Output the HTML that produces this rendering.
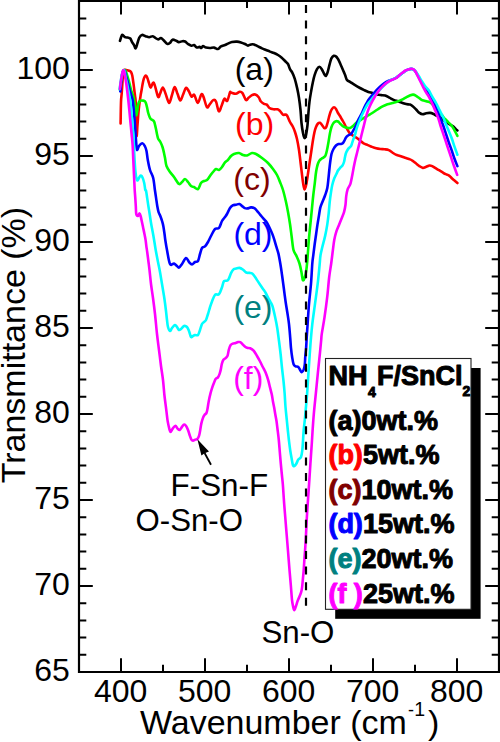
<!DOCTYPE html>
<html><head><meta charset="utf-8"><title>FTIR</title>
<style>
html,body{margin:0;padding:0;background:#fff;width:500px;height:742px;overflow:hidden;}
svg{display:block;}
text{font-family:"Liberation Sans",sans-serif;}
.tl{font-size:32px;fill:#000;}
.lg{font-size:27px;font-weight:bold;stroke-width:1px;paint-order:stroke;stroke-linejoin:round;}
</style></head>
<body>
<svg width="500" height="742" viewBox="0 0 500 742">
<rect width="500" height="742" fill="#fff"/>

<path d="M121 672V658.3M121 0V14.5M205 672V658.3M205 0V14.5M289 672V658.3M289 0V14.5M373 672V658.3M373 0V14.5M457 672V658.3M457 0V14.5M163 672V664.8M163 0V8M247 672V664.8M247 0V8M331 672V664.8M331 0V8M415 672V664.8M415 0V8M79 672H92.8M499 672H485.2M79 654.8H86.3M499 654.8H491.7M79 637.6H86.3M499 637.6H491.7M79 620.4H86.3M499 620.4H491.7M79 603.2H86.3M499 603.2H491.7M79 586H92.8M499 586H485.2M79 568.8H86.3M499 568.8H491.7M79 551.6H86.3M499 551.6H491.7M79 534.4H86.3M499 534.4H491.7M79 517.2H86.3M499 517.2H491.7M79 500H92.8M499 500H485.2M79 482.8H86.3M499 482.8H491.7M79 465.6H86.3M499 465.6H491.7M79 448.4H86.3M499 448.4H491.7M79 431.2H86.3M499 431.2H491.7M79 414H92.8M499 414H485.2M79 396.8H86.3M499 396.8H491.7M79 379.6H86.3M499 379.6H491.7M79 362.4H86.3M499 362.4H491.7M79 345.2H86.3M499 345.2H491.7M79 328H92.8M499 328H485.2M79 310.8H86.3M499 310.8H491.7M79 293.6H86.3M499 293.6H491.7M79 276.4H86.3M499 276.4H491.7M79 259.2H86.3M499 259.2H491.7M79 242H92.8M499 242H485.2M79 224.8H86.3M499 224.8H491.7M79 207.6H86.3M499 207.6H491.7M79 190.4H86.3M499 190.4H491.7M79 173.2H86.3M499 173.2H491.7M79 156H92.8M499 156H485.2M79 138.8H86.3M499 138.8H491.7M79 121.6H86.3M499 121.6H491.7M79 104.4H86.3M499 104.4H491.7M79 87.2H86.3M499 87.2H491.7M79 70H92.8M499 70H485.2M79 52.8H86.3M499 52.8H491.7M79 35.6H86.3M499 35.6H491.7M79 18.4H86.3M499 18.4H491.7" stroke="#000" stroke-width="2" fill="none"/>
<path d="M120.00 40.80C120.37 39.82 121.38 35.50 122.20 34.90C123.02 34.30 124.00 36.75 124.90 37.20C125.80 37.65 126.70 37.38 127.60 37.60C128.50 37.82 129.55 37.75 130.30 38.50C131.05 39.25 131.50 41.05 132.10 42.10C132.70 43.15 133.30 43.75 133.90 44.80C134.50 45.85 135.10 48.70 135.70 48.40C136.30 48.10 136.90 44.80 137.50 43.00C138.10 41.20 138.55 38.95 139.30 37.60C140.05 36.25 140.95 35.13 142.00 34.90C143.05 34.67 144.40 35.82 145.60 36.20C146.80 36.58 148.00 37.20 149.20 37.20C150.40 37.20 151.75 36.07 152.80 36.20C153.85 36.33 154.60 37.47 155.50 38.00C156.40 38.53 157.30 39.40 158.20 39.40C159.10 39.40 160.00 37.85 160.90 38.00C161.80 38.15 162.55 39.32 163.60 40.30C164.65 41.28 166.15 43.45 167.20 43.90C168.25 44.35 169.00 43.70 169.90 43.00C170.80 42.30 171.55 40.07 172.60 39.70C173.65 39.33 175.17 40.40 176.20 40.80C177.23 41.20 177.77 42.03 178.80 42.10C179.83 42.17 181.35 41.30 182.40 41.20C183.45 41.10 184.20 41.05 185.10 41.50C186.00 41.95 186.75 43.20 187.80 43.90C188.85 44.60 190.35 45.50 191.40 45.70C192.45 45.90 193.20 44.80 194.10 45.10C195.00 45.40 195.90 47.20 196.80 47.50C197.70 47.80 198.75 46.82 199.50 46.90C200.25 46.98 200.72 48.15 201.30 48.00C201.88 47.85 202.22 46.07 203.00 46.00C203.78 45.93 204.83 47.27 206.00 47.60C207.17 47.93 208.67 48.00 210.00 48.00C211.33 48.00 212.67 47.43 214.00 47.60C215.33 47.77 216.83 49.20 218.00 49.00C219.17 48.80 219.83 47.07 221.00 46.40C222.17 45.73 223.83 45.47 225.00 45.00C226.17 44.53 226.83 44.10 228.00 43.60C229.17 43.10 230.50 42.33 232.00 42.00C233.50 41.67 235.50 41.53 237.00 41.60C238.50 41.67 239.67 42.00 241.00 42.40C242.33 42.80 243.83 43.47 245.00 44.00C246.17 44.53 247.00 45.53 248.00 45.60C249.00 45.67 250.00 44.60 251.00 44.40C252.00 44.20 252.83 44.07 254.00 44.40C255.17 44.73 256.67 45.73 258.00 46.40C259.33 47.07 260.67 47.80 262.00 48.40C263.33 49.00 264.67 49.47 266.00 50.00C267.33 50.53 268.67 51.10 270.00 51.60C271.33 52.10 272.67 52.43 274.00 53.00C275.33 53.57 276.67 54.17 278.00 55.00C279.33 55.83 280.83 57.00 282.00 58.00C283.17 59.00 284.00 60.00 285.00 61.00C286.00 62.00 287.17 62.63 288.00 64.00C288.83 65.37 289.27 67.73 290.00 69.20C290.73 70.67 291.60 71.20 292.40 72.80C293.20 74.40 294.00 76.20 294.80 78.80C295.60 81.40 296.50 85.20 297.20 88.40C297.90 91.60 298.45 94.40 299.00 98.00C299.55 101.60 300.08 105.83 300.50 110.00C300.92 114.17 301.08 119.17 301.50 123.00C301.92 126.83 302.50 130.50 303.00 133.00C303.50 135.50 304.00 137.67 304.50 138.00C305.00 138.33 305.50 137.17 306.00 135.00C306.50 132.83 307.08 128.83 307.50 125.00C307.92 121.17 308.17 115.90 308.50 112.00C308.83 108.10 309.08 104.93 309.50 101.60C309.92 98.27 310.45 95.20 311.00 92.00C311.55 88.80 312.20 85.20 312.80 82.40C313.40 79.60 313.90 77.40 314.60 75.20C315.30 73.00 316.20 70.60 317.00 69.20C317.80 67.80 318.60 66.80 319.40 66.80C320.20 66.80 321.00 68.00 321.80 69.20C322.60 70.40 323.50 72.90 324.20 74.00C324.90 75.10 325.40 76.20 326.00 75.80C326.60 75.40 327.20 73.50 327.80 71.60C328.40 69.70 329.00 66.60 329.60 64.40C330.20 62.20 330.70 59.83 331.40 58.40C332.10 56.97 333.00 56.10 333.80 55.80C334.60 55.50 335.50 56.07 336.20 56.60C336.90 57.13 337.40 58.00 338.00 59.00C338.60 60.00 339.20 61.30 339.80 62.60C340.40 63.90 341.00 65.40 341.60 66.80C342.20 68.20 342.80 69.60 343.40 71.00C344.00 72.40 344.60 73.70 345.20 75.20C345.80 76.70 346.20 78.90 347.00 80.00C347.80 81.10 348.78 81.02 350.00 81.80C351.22 82.58 352.63 83.67 354.30 84.70C355.97 85.73 358.35 87.10 360.00 88.00C361.65 88.90 362.80 89.45 364.20 90.10C365.60 90.75 367.00 91.41 368.40 91.90C369.80 92.39 371.20 92.60 372.60 93.02C374.00 93.44 375.40 94.05 376.80 94.40C378.20 94.75 379.60 94.92 381.00 95.10C382.40 95.28 383.80 95.08 385.20 95.50C386.60 95.92 388.00 96.89 389.40 97.62C390.80 98.35 392.20 99.29 393.60 99.90C395.00 100.51 396.40 100.83 397.80 101.30C399.20 101.77 400.60 102.23 402.00 102.70C403.40 103.17 404.87 103.78 406.20 104.10C407.53 104.42 408.92 104.25 410.00 104.60C411.08 104.95 411.68 105.38 412.70 106.20C413.72 107.02 414.98 108.38 416.10 109.50C417.22 110.62 418.28 112.10 419.40 112.90C420.52 113.70 421.67 114.25 422.80 114.30C423.93 114.35 424.97 113.43 426.20 113.20C427.43 112.97 428.97 112.77 430.20 112.90C431.43 113.03 432.58 113.55 433.60 114.00C434.62 114.45 435.30 115.10 436.30 115.60C437.30 116.10 438.48 116.33 439.60 117.00C440.72 117.67 441.87 118.72 443.00 119.60C444.13 120.48 445.27 121.50 446.40 122.30C447.53 123.10 448.68 123.72 449.80 124.40C450.92 125.08 452.10 125.62 453.10 126.40C454.10 127.18 455.08 128.43 455.80 129.10C456.52 129.77 457.13 130.18 457.40 130.40" fill="none" stroke="#000" stroke-width="2.6" stroke-linejoin="round" stroke-linecap="round"/>
<path d="M120.60 123.40C120.67 119.83 120.82 106.98 121.00 102.00C121.18 97.02 121.47 96.67 121.70 93.50C121.93 90.33 122.17 86.35 122.40 83.00C122.63 79.65 122.87 75.51 123.10 73.39C123.33 71.27 123.40 70.88 123.80 70.30C124.20 69.72 124.87 69.90 125.50 69.90C126.13 69.90 126.90 70.14 127.60 70.30C128.30 70.46 129.12 70.53 129.70 70.85C130.28 71.17 130.68 71.46 131.10 72.20C131.52 72.94 131.90 74.08 132.20 75.30C132.50 76.52 132.67 77.98 132.90 79.50C133.13 81.02 133.37 82.65 133.60 84.40C133.83 86.15 134.07 88.13 134.30 90.00C134.53 91.87 134.77 93.60 135.00 95.60C135.23 97.60 135.52 98.27 135.70 102.00C135.88 105.73 135.95 112.33 136.10 118.00C136.25 123.67 136.37 134.83 136.60 136.00C136.83 137.17 137.18 129.00 137.50 125.00C137.82 121.00 138.17 115.67 138.50 112.00C138.83 108.33 139.15 105.73 139.50 103.00C139.85 100.27 140.25 97.77 140.60 95.60C140.95 93.43 141.25 92.03 141.60 90.00C141.95 87.97 142.35 85.22 142.70 83.40C143.05 81.58 143.35 80.21 143.70 79.06C144.05 77.91 144.38 77.04 144.80 76.50C145.22 75.96 145.73 75.45 146.20 75.80C146.67 76.15 147.13 77.38 147.60 78.60C148.07 79.82 148.47 81.65 149.00 83.15C149.53 84.65 150.00 87.66 150.80 87.60C151.60 87.54 152.60 81.30 153.80 82.80C155.00 84.30 156.97 94.77 158.00 96.60C159.03 98.43 159.20 95.32 160.00 93.80C160.80 92.28 161.87 87.50 162.80 87.50C163.73 87.50 164.55 91.23 165.60 93.80C166.65 96.37 168.05 102.67 169.10 102.90C170.15 103.13 170.97 97.83 171.90 95.20C172.83 92.57 173.77 87.33 174.70 87.10C175.63 86.87 176.57 91.57 177.50 93.80C178.43 96.03 179.37 100.38 180.30 100.50C181.23 100.62 182.17 96.60 183.10 94.50C184.03 92.40 184.97 88.48 185.90 87.90C186.83 87.32 187.77 89.55 188.70 91.00C189.63 92.45 190.57 95.95 191.50 96.60C192.43 97.25 193.25 93.85 194.30 94.90C195.35 95.95 196.63 102.97 197.80 102.90C198.97 102.83 200.37 95.55 201.30 94.50C202.23 93.45 202.47 94.50 203.40 96.60C204.33 98.70 205.85 105.82 206.90 107.10C207.95 108.38 208.65 105.47 209.70 104.30C210.75 103.13 212.15 100.57 213.20 100.10C214.25 99.63 215.07 99.63 216.00 101.50C216.93 103.37 217.87 110.60 218.80 111.30C219.73 112.00 220.67 107.80 221.60 105.70C222.53 103.60 223.47 99.52 224.40 98.70C225.33 97.88 226.27 101.85 227.20 100.80C228.13 99.75 229.37 93.78 230.00 92.40C230.63 91.02 230.03 92.27 231.00 92.50C231.97 92.73 234.33 93.92 235.80 93.80C237.27 93.68 238.68 91.92 239.80 91.80C240.92 91.68 241.48 91.75 242.50 93.10C243.52 94.45 244.88 99.12 245.90 99.90C246.92 100.68 247.58 98.60 248.60 97.80C249.62 97.00 250.88 95.65 252.00 95.10C253.12 94.55 254.18 94.15 255.30 94.50C256.42 94.85 257.80 96.08 258.70 97.20C259.60 98.32 259.82 100.08 260.70 101.20C261.58 102.32 262.98 103.33 264.00 103.90C265.02 104.47 265.88 103.92 266.80 104.60C267.72 105.28 268.38 107.22 269.50 108.00C270.62 108.78 272.15 109.08 273.50 109.30C274.85 109.52 276.47 108.97 277.60 109.30C278.73 109.63 279.40 110.40 280.30 111.30C281.20 112.20 282.22 114.15 283.00 114.70C283.78 115.25 284.33 114.47 285.00 114.60C285.67 114.73 286.17 114.27 287.00 115.50C287.83 116.73 289.00 120.08 290.00 122.00C291.00 123.92 292.17 125.33 293.00 127.00C293.83 128.67 294.33 130.00 295.00 132.00C295.67 134.00 296.33 136.00 297.00 139.00C297.67 142.00 298.42 146.17 299.00 150.00C299.58 153.83 300.05 158.33 300.50 162.00C300.95 165.67 301.32 168.83 301.70 172.00C302.08 175.17 302.45 178.50 302.80 181.00C303.15 183.50 303.50 185.58 303.80 187.00C304.10 188.42 304.32 189.42 304.60 189.50C304.88 189.58 305.18 188.58 305.50 187.50C305.82 186.42 306.17 184.75 306.50 183.00C306.83 181.25 307.17 179.17 307.50 177.00C307.83 174.83 308.08 172.83 308.50 170.00C308.92 167.17 309.50 163.33 310.00 160.00C310.50 156.67 311.00 153.33 311.50 150.00C312.00 146.67 312.50 143.00 313.00 140.00C313.50 137.00 314.00 134.17 314.50 132.00C315.00 129.83 315.42 128.42 316.00 127.00C316.58 125.58 317.33 124.20 318.00 123.50C318.67 122.80 319.33 122.55 320.00 122.80C320.67 123.05 321.33 124.17 322.00 125.00C322.67 125.83 323.33 127.38 324.00 127.80C324.67 128.22 325.42 128.30 326.00 127.50C326.58 126.70 327.00 124.75 327.50 123.00C328.00 121.25 328.50 118.83 329.00 117.00C329.50 115.17 330.00 113.33 330.50 112.00C331.00 110.67 331.42 109.78 332.00 109.00C332.58 108.22 333.33 107.30 334.00 107.30C334.67 107.30 335.33 108.05 336.00 109.00C336.67 109.95 337.33 111.83 338.00 113.00C338.67 114.17 339.33 114.92 340.00 116.00C340.67 117.08 341.33 118.33 342.00 119.50C342.67 120.67 343.33 121.75 344.00 123.00C344.67 124.25 345.33 125.75 346.00 127.00C346.67 128.25 347.33 129.42 348.00 130.50C348.67 131.58 349.15 132.63 350.00 133.50C350.85 134.37 352.00 134.98 353.10 135.70C354.20 136.42 355.43 136.98 356.60 137.80C357.77 138.62 358.93 139.67 360.10 140.60C361.27 141.53 362.32 142.65 363.60 143.40C364.88 144.15 366.40 144.52 367.80 145.10C369.20 145.68 370.60 146.37 372.00 146.90C373.40 147.43 374.80 147.95 376.20 148.30C377.60 148.65 379.00 148.83 380.40 149.00C381.80 149.17 383.20 149.12 384.60 149.30C386.00 149.48 387.52 149.57 388.80 150.10C390.08 150.63 391.13 151.75 392.30 152.50C393.47 153.25 394.52 154.02 395.80 154.60C397.08 155.18 398.47 155.47 400.00 156.00C401.53 156.53 403.33 157.23 405.00 157.80C406.67 158.37 408.72 158.90 410.00 159.40C411.28 159.90 411.68 160.12 412.70 160.80C413.72 161.48 414.98 162.62 416.10 163.50C417.22 164.38 418.28 165.37 419.40 166.10C420.52 166.83 421.67 167.78 422.80 167.90C423.93 168.02 425.08 167.20 426.20 166.80C427.32 166.40 428.50 165.62 429.50 165.50C430.50 165.38 431.18 165.65 432.20 166.10C433.22 166.55 434.47 167.52 435.60 168.20C436.73 168.88 437.88 169.53 439.00 170.20C440.12 170.87 441.18 171.53 442.30 172.20C443.42 172.87 444.57 173.63 445.70 174.20C446.83 174.77 448.08 174.92 449.10 175.60C450.12 176.28 450.90 177.47 451.80 178.30C452.70 179.13 453.57 179.82 454.50 180.60C455.43 181.38 456.92 182.60 457.40 183.00" fill="none" stroke="#ff0000" stroke-width="2.6" stroke-linejoin="round" stroke-linecap="round"/>
<path d="M120.00 90.00C120.22 88.38 120.88 83.16 121.30 80.27C121.72 77.38 122.05 74.32 122.50 72.69C122.95 71.06 123.50 70.85 124.00 70.50C124.50 70.15 124.90 69.53 125.50 70.60C126.10 71.67 126.95 74.83 127.60 76.90C128.25 78.97 128.82 80.82 129.40 83.00C129.98 85.18 130.42 87.67 131.10 90.00C131.78 92.33 132.95 95.00 133.50 97.00C134.05 99.00 134.10 100.00 134.40 102.00C134.70 104.00 135.00 106.78 135.30 109.00C135.60 111.22 135.87 115.07 136.20 115.30C136.53 115.53 137.00 112.03 137.30 110.40C137.60 108.77 137.72 106.90 138.00 105.50C138.28 104.10 138.48 102.82 139.00 102.00C139.52 101.18 140.40 100.83 141.10 100.60C141.80 100.37 142.55 100.48 143.20 100.60C143.85 100.72 144.53 100.83 145.00 101.30C145.47 101.77 145.65 102.35 146.00 103.40C146.35 104.45 146.75 106.08 147.10 107.60C147.45 109.12 147.70 110.98 148.10 112.50C148.50 114.02 149.03 115.58 149.50 116.70C149.97 117.82 150.37 118.62 150.90 119.20C151.43 119.78 152.17 119.80 152.70 120.20C153.23 120.60 153.70 120.78 154.10 121.60C154.50 122.42 154.75 123.70 155.10 125.10C155.45 126.50 155.85 128.35 156.20 130.00C156.55 131.65 156.85 133.50 157.20 135.00C157.55 136.50 157.77 137.83 158.30 139.00C158.83 140.17 159.70 140.67 160.40 142.00C161.10 143.33 161.90 145.17 162.50 147.00C163.10 148.83 163.55 151.00 164.00 153.00C164.45 155.00 164.78 156.83 165.20 159.00C165.62 161.17 165.70 163.83 166.50 166.00C167.30 168.17 168.75 170.17 170.00 172.00C171.25 173.83 172.50 175.00 174.00 177.00C175.50 179.00 177.67 183.17 179.00 184.00C180.33 184.83 181.00 182.83 182.00 182.00C183.00 181.17 184.00 179.00 185.00 179.00C186.00 179.00 187.00 180.83 188.00 182.00C189.00 183.17 190.00 185.17 191.00 186.00C192.00 186.83 192.83 186.50 194.00 187.00C195.17 187.50 196.83 189.67 198.00 189.00C199.17 188.33 200.00 184.33 201.00 183.00C202.00 181.67 203.00 181.50 204.00 181.00C205.00 180.50 206.00 180.83 207.00 180.00C208.00 179.17 209.00 177.33 210.00 176.00C211.00 174.67 212.00 173.17 213.00 172.00C214.00 170.83 215.00 169.33 216.00 169.00C217.00 168.67 218.00 170.33 219.00 170.00C220.00 169.67 221.00 168.26 222.00 167.00C223.00 165.74 224.00 163.62 225.00 162.43C226.00 161.24 227.00 160.93 228.00 159.86C229.00 158.79 230.00 156.98 231.00 156.00C232.00 155.02 232.67 154.50 234.00 154.00C235.33 153.50 237.50 152.83 239.00 153.00C240.50 153.17 241.67 154.59 243.00 155.00C244.33 155.41 245.50 155.76 247.00 155.43C248.50 155.10 250.50 153.24 252.00 153.00C253.50 152.76 254.33 153.17 256.00 154.00C257.67 154.83 260.00 156.50 262.00 158.00C264.00 159.50 266.17 161.17 268.00 163.00C269.83 164.83 271.50 167.00 273.00 169.00C274.50 171.00 275.83 172.83 277.00 175.00C278.17 177.17 279.00 179.50 280.00 182.00C281.00 184.50 282.00 186.67 283.00 190.00C284.00 193.33 285.17 198.33 286.00 202.00C286.83 205.67 287.33 208.33 288.00 212.00C288.67 215.67 289.38 219.83 290.00 224.00C290.62 228.17 291.12 232.67 291.70 237.00C292.28 241.33 292.75 246.93 293.50 250.00C294.25 253.07 295.20 253.15 296.20 255.40C297.20 257.65 298.60 260.58 299.50 263.50C300.40 266.42 301.03 270.10 301.60 272.90C302.17 275.70 302.35 279.62 302.90 280.30C303.45 280.98 304.33 278.68 304.90 277.00C305.47 275.32 305.90 272.90 306.30 270.20C306.70 267.50 307.00 264.17 307.30 260.80C307.60 257.43 307.80 253.97 308.10 250.00C308.40 246.03 308.70 241.50 309.10 237.00C309.50 232.50 310.03 227.67 310.50 223.00C310.97 218.33 311.43 213.67 311.90 209.00C312.37 204.33 312.83 199.20 313.30 195.00C313.77 190.80 314.28 187.30 314.70 183.80C315.12 180.30 315.45 176.63 315.80 174.00C316.15 171.37 316.43 169.75 316.80 168.00C317.17 166.25 317.55 164.75 318.00 163.50C318.45 162.25 318.92 161.28 319.50 160.50C320.08 159.72 320.83 159.30 321.50 158.80C322.17 158.30 322.83 158.05 323.50 157.50C324.17 156.95 324.92 156.75 325.50 155.50C326.08 154.25 326.50 152.25 327.00 150.00C327.50 147.75 328.00 144.83 328.50 142.00C329.00 139.17 329.50 135.50 330.00 133.00C330.50 130.50 330.92 128.67 331.50 127.00C332.08 125.33 332.75 123.97 333.50 123.00C334.25 122.03 335.25 121.45 336.00 121.20C336.75 120.95 337.33 121.12 338.00 121.50C338.67 121.88 339.33 122.83 340.00 123.50C340.67 124.17 341.25 124.92 342.00 125.50C342.75 126.08 343.67 126.62 344.50 127.00C345.33 127.38 346.08 127.63 347.00 127.80C347.92 127.97 349.00 128.30 350.00 128.00C351.00 127.70 351.90 126.93 353.00 126.00C354.10 125.07 355.42 123.35 356.60 122.40C357.78 121.45 358.93 121.00 360.10 120.30C361.27 119.60 362.43 118.90 363.60 118.20C364.77 117.50 365.93 116.80 367.10 116.10C368.27 115.40 369.37 114.77 370.60 114.00C371.83 113.23 373.18 112.37 374.50 111.50C375.82 110.63 377.15 109.67 378.50 108.80C379.85 107.93 381.10 107.07 382.60 106.30C384.10 105.53 385.85 104.75 387.50 104.20C389.15 103.65 390.95 103.40 392.50 103.00C394.05 102.60 395.22 102.35 396.80 101.80C398.38 101.25 400.38 100.48 402.00 99.70C403.62 98.92 405.10 97.85 406.50 97.10C407.90 96.35 409.28 95.62 410.40 95.20C411.52 94.78 412.27 94.50 413.20 94.60C414.13 94.70 415.07 95.27 416.00 95.80C416.93 96.33 417.87 97.12 418.80 97.80C419.73 98.48 420.67 99.40 421.60 99.90C422.53 100.40 423.47 100.53 424.40 100.80C425.33 101.07 426.45 101.32 427.20 101.50C427.95 101.68 428.17 101.57 428.90 101.90C429.63 102.23 430.60 102.57 431.60 103.50C432.60 104.43 433.78 106.15 434.90 107.50C436.02 108.85 437.17 110.37 438.30 111.60C439.43 112.83 440.58 113.67 441.70 114.90C442.82 116.13 443.88 117.77 445.00 119.00C446.12 120.23 447.27 121.18 448.40 122.30C449.53 123.42 450.78 124.35 451.80 125.70C452.82 127.05 453.57 128.72 454.50 130.40C455.43 132.08 456.92 134.90 457.40 135.80" fill="none" stroke="#00ff00" stroke-width="2.6" stroke-linejoin="round" stroke-linecap="round"/>
<path d="M120.30 91.40C120.45 89.83 120.88 84.80 121.20 82.00C121.52 79.20 121.80 76.51 122.20 74.58C122.60 72.65 123.17 70.95 123.60 70.40C124.03 69.85 124.37 70.22 124.80 71.30C125.23 72.38 125.67 74.95 126.20 76.90C126.73 78.85 127.42 80.82 128.00 83.00C128.58 85.18 129.15 87.92 129.70 90.00C130.25 92.08 130.78 93.67 131.30 95.50C131.82 97.33 132.32 97.75 132.80 101.00C133.28 104.25 133.78 110.17 134.20 115.00C134.62 119.83 135.00 125.83 135.30 130.00C135.60 134.17 135.72 136.70 136.00 140.00C136.28 143.30 136.50 148.80 137.00 149.80C137.50 150.80 138.10 147.10 139.00 146.00C139.90 144.90 141.40 143.12 142.40 143.20C143.40 143.28 144.32 145.20 145.00 146.50C145.68 147.80 146.03 148.75 146.50 151.00C146.97 153.25 147.22 156.83 147.80 160.00C148.38 163.17 149.10 167.00 150.00 170.00C150.90 173.00 152.38 174.67 153.20 178.00C154.02 181.33 154.42 186.65 154.90 190.00C155.38 193.35 155.70 195.40 156.10 198.10C156.50 200.80 156.90 203.92 157.30 206.20C157.70 208.48 157.95 210.05 158.50 211.80C159.05 213.55 159.98 215.08 160.60 216.70C161.22 218.32 161.73 219.88 162.20 221.50C162.67 223.12 163.00 224.23 163.40 226.40C163.80 228.57 164.28 232.23 164.60 234.50C164.92 236.77 164.90 237.42 165.30 240.00C165.70 242.58 166.22 246.00 167.00 250.00C167.78 254.00 168.83 261.73 170.00 264.00C171.17 266.27 172.83 263.27 174.00 263.60C175.17 263.93 176.17 265.33 177.00 266.00C177.83 266.67 178.17 267.93 179.00 267.60C179.83 267.27 180.83 265.60 182.00 264.00C183.17 262.40 184.83 258.33 186.00 258.00C187.17 257.67 188.00 260.93 189.00 262.00C190.00 263.07 191.00 264.40 192.00 264.40C193.00 264.40 194.00 262.57 195.00 262.00C196.00 261.43 197.17 262.33 198.00 261.00C198.83 259.67 199.33 256.17 200.00 254.00C200.67 251.83 201.17 249.27 202.00 248.00C202.83 246.73 204.00 247.40 205.00 246.40C206.00 245.40 207.00 243.73 208.00 242.00C209.00 240.27 209.83 238.17 211.00 236.00C212.17 233.83 213.67 230.33 215.00 229.00C216.33 227.67 217.83 229.33 219.00 228.00C220.17 226.67 221.00 222.83 222.00 221.00C223.00 219.17 224.17 218.17 225.00 217.00C225.83 215.83 226.17 215.50 227.00 214.00C227.83 212.50 229.05 209.43 230.00 208.00C230.95 206.57 231.68 205.95 232.70 205.40C233.72 204.85 234.98 204.93 236.10 204.70C237.22 204.47 238.40 203.77 239.40 204.00C240.40 204.23 241.20 205.42 242.10 206.10C243.00 206.78 243.90 207.72 244.80 208.10C245.70 208.48 246.48 208.52 247.50 208.40C248.52 208.28 249.77 207.45 250.90 207.40C252.03 207.35 253.28 207.53 254.30 208.10C255.32 208.67 256.00 209.68 257.00 210.80C258.00 211.92 259.18 213.45 260.30 214.80C261.42 216.15 262.57 217.55 263.70 218.90C264.83 220.25 266.08 221.33 267.10 222.90C268.12 224.47 268.90 226.38 269.80 228.30C270.70 230.22 271.72 232.38 272.50 234.40C273.28 236.42 273.83 238.27 274.50 240.40C275.17 242.53 275.83 244.95 276.50 247.20C277.17 249.45 277.83 250.98 278.50 253.90C279.17 256.82 279.93 261.33 280.50 264.70C281.07 268.07 281.45 270.95 281.90 274.10C282.35 277.25 282.75 280.23 283.20 283.60C283.65 286.97 284.17 291.07 284.60 294.30C285.03 297.53 285.33 299.88 285.80 303.00C286.27 306.12 286.87 309.48 287.40 313.00C287.93 316.52 288.53 320.00 289.00 324.10C289.47 328.20 289.87 333.60 290.20 337.60C290.53 341.60 290.67 344.78 291.00 348.10C291.33 351.42 291.77 354.80 292.20 357.50C292.63 360.20 293.03 362.83 293.60 364.30C294.17 365.77 294.82 365.85 295.60 366.30C296.38 366.75 297.52 366.33 298.30 367.00C299.08 367.67 299.73 369.42 300.30 370.30C300.87 371.18 301.13 372.42 301.70 372.30C302.27 372.18 303.18 370.93 303.70 369.60C304.22 368.27 304.53 366.53 304.80 364.30C305.07 362.07 305.08 358.90 305.30 356.20C305.52 353.50 305.87 351.20 306.10 348.10C306.33 345.00 306.45 341.60 306.70 337.60C306.95 333.60 307.22 329.72 307.60 324.10C307.98 318.48 308.43 310.63 309.00 303.90C309.57 297.17 310.45 290.43 311.00 283.70C311.55 276.97 311.92 268.25 312.30 263.50C312.68 258.75 312.90 258.45 313.30 255.20C313.70 251.95 314.23 247.50 314.70 244.00C315.17 240.50 315.63 237.47 316.10 234.20C316.57 230.93 317.03 227.43 317.50 224.40C317.97 221.37 318.43 218.80 318.90 216.00C319.37 213.20 319.72 209.93 320.30 207.60C320.88 205.27 321.58 204.10 322.40 202.00C323.22 199.90 324.38 197.33 325.20 195.00C326.02 192.67 326.75 190.83 327.30 188.00C327.85 185.17 328.17 181.00 328.50 178.00C328.83 175.00 329.02 172.67 329.30 170.00C329.58 167.33 329.83 164.67 330.20 162.00C330.57 159.33 330.95 156.17 331.50 154.00C332.05 151.83 332.75 150.42 333.50 149.00C334.25 147.58 335.17 146.33 336.00 145.50C336.83 144.67 337.67 144.25 338.50 144.00C339.33 143.75 340.25 144.17 341.00 144.00C341.75 143.83 342.42 143.58 343.00 143.00C343.58 142.42 344.00 141.42 344.50 140.50C345.00 139.58 345.42 138.33 346.00 137.50C346.58 136.67 347.33 136.00 348.00 135.50C348.67 135.00 349.38 134.88 350.00 134.50C350.62 134.12 351.07 134.01 351.70 133.20C352.33 132.39 353.10 130.90 353.80 129.65C354.50 128.41 355.20 127.27 355.90 125.73C356.60 124.19 357.30 121.96 358.00 120.42C358.70 118.88 359.38 117.87 360.10 116.50C360.82 115.13 361.62 113.67 362.30 112.20C362.98 110.73 363.53 109.12 364.20 107.70C364.87 106.28 365.48 105.15 366.30 103.70C367.12 102.25 368.05 100.48 369.10 99.00C370.15 97.52 371.43 96.20 372.60 94.80C373.77 93.40 374.82 92.00 376.10 90.60C377.38 89.20 378.90 87.67 380.30 86.40C381.70 85.13 383.10 83.93 384.50 83.00C385.90 82.07 387.37 81.39 388.70 80.80C390.03 80.21 391.28 79.98 392.50 79.48C393.72 78.98 394.77 78.55 396.00 77.80C397.23 77.05 398.78 75.83 399.90 75.00C401.02 74.17 401.77 73.50 402.70 72.80C403.63 72.10 404.57 71.33 405.50 70.80C406.43 70.27 407.37 69.92 408.30 69.60C409.23 69.28 410.25 68.92 411.10 68.90C411.95 68.88 412.65 69.02 413.40 69.50C414.15 69.98 414.83 70.75 415.60 71.80C416.37 72.85 417.18 74.35 418.00 75.80C418.82 77.25 419.67 79.00 420.50 80.50C421.33 82.00 422.17 83.45 423.00 84.80C423.83 86.15 424.75 87.57 425.50 88.60C426.25 89.63 426.60 89.65 427.50 91.00C428.40 92.35 429.77 94.62 430.90 96.70C432.03 98.78 433.18 101.02 434.30 103.50C435.42 105.98 436.60 109.13 437.60 111.60C438.60 114.07 439.40 116.07 440.30 118.30C441.20 120.53 442.10 122.53 443.00 125.00C443.90 127.47 444.80 130.40 445.70 133.10C446.60 135.80 447.38 138.28 448.40 141.20C449.42 144.12 450.78 147.68 451.80 150.60C452.82 153.52 453.57 156.12 454.50 158.70C455.43 161.28 456.92 164.87 457.40 166.10" fill="none" stroke="#0000ff" stroke-width="2.6" stroke-linejoin="round" stroke-linecap="round"/>
<path d="M119.60 89.30C119.80 87.92 120.42 83.47 120.80 81.00C121.18 78.53 121.45 76.25 121.90 74.48C122.35 72.71 123.07 70.93 123.50 70.40C123.93 69.87 124.17 70.22 124.50 71.30C124.83 72.38 125.10 74.95 125.50 76.90C125.90 78.85 126.43 80.82 126.90 83.00C127.37 85.18 127.88 87.83 128.30 90.00C128.72 92.17 129.05 94.00 129.40 96.00C129.75 98.00 130.03 98.83 130.40 102.00C130.77 105.17 131.23 110.83 131.60 115.00C131.97 119.17 132.30 123.67 132.60 127.00C132.90 130.33 133.17 131.50 133.40 135.00C133.63 138.50 133.80 143.83 134.00 148.00C134.20 152.17 134.35 156.00 134.60 160.00C134.85 164.00 135.07 168.60 135.50 172.00C135.93 175.40 136.38 179.80 137.20 180.40C138.02 181.00 139.52 176.08 140.40 175.60C141.28 175.12 141.87 176.27 142.50 177.50C143.13 178.73 143.73 180.92 144.20 183.00C144.67 185.08 145.00 188.75 145.30 190.00C145.60 191.25 145.68 189.15 146.00 190.50C146.32 191.85 146.80 195.48 147.20 198.10C147.60 200.72 147.98 203.50 148.40 206.20C148.82 208.90 149.28 211.62 149.70 214.30C150.12 216.98 150.50 219.88 150.90 222.30C151.30 224.72 151.70 226.63 152.10 228.80C152.50 230.97 152.90 233.02 153.30 235.30C153.70 237.58 154.10 240.05 154.50 242.50C154.90 244.95 155.12 246.75 155.70 250.00C156.28 253.25 157.28 258.33 158.00 262.00C158.72 265.67 159.33 268.33 160.00 272.00C160.67 275.67 161.33 280.00 162.00 284.00C162.67 288.00 163.50 292.83 164.00 296.00C164.50 299.17 164.67 300.50 165.00 303.00C165.33 305.50 165.67 308.17 166.00 311.00C166.33 313.83 166.67 317.33 167.00 320.00C167.33 322.67 167.50 325.17 168.00 327.00C168.50 328.83 169.33 330.83 170.00 331.00C170.67 331.17 171.17 329.00 172.00 328.00C172.83 327.00 174.17 325.17 175.00 325.00C175.83 324.83 176.33 326.17 177.00 327.00C177.67 327.83 178.33 329.67 179.00 330.00C179.67 330.33 180.17 329.67 181.00 329.00C181.83 328.33 183.00 326.33 184.00 326.00C185.00 325.67 186.17 326.17 187.00 327.00C187.83 327.83 188.33 329.33 189.00 331.00C189.67 332.67 190.33 336.17 191.00 337.00C191.67 337.83 192.33 336.33 193.00 336.00C193.67 335.67 194.17 335.17 195.00 335.00C195.83 334.83 197.17 335.83 198.00 335.00C198.83 334.17 199.33 331.83 200.00 330.00C200.67 328.17 201.33 325.33 202.00 324.00C202.67 322.67 203.33 322.67 204.00 322.00C204.67 321.33 205.33 321.33 206.00 320.00C206.67 318.67 207.33 316.13 208.00 314.00C208.67 311.87 209.33 309.32 210.00 307.23C210.67 305.14 211.17 303.53 212.00 301.46C212.83 299.39 213.83 296.01 215.00 294.80C216.17 293.59 217.83 295.47 219.00 294.20C220.17 292.93 221.17 289.37 222.00 287.20C222.83 285.03 223.00 282.37 224.00 281.20C225.00 280.03 226.83 281.53 228.00 280.20C229.17 278.87 230.08 275.00 231.00 273.20C231.92 271.40 232.65 270.17 233.50 269.40C234.35 268.63 235.12 268.85 236.10 268.60C237.08 268.35 238.28 267.75 239.40 267.90C240.52 268.05 241.67 268.75 242.80 269.52C243.93 270.29 245.08 271.97 246.20 272.53C247.32 273.09 248.50 272.70 249.50 272.86C250.50 273.02 251.30 272.84 252.20 273.50C253.10 274.16 254.00 275.57 254.90 276.80C255.80 278.03 256.70 279.55 257.60 280.90C258.50 282.25 259.40 283.57 260.30 284.90C261.20 286.23 262.10 287.55 263.00 288.90C263.90 290.25 264.80 291.42 265.70 293.00C266.60 294.58 267.60 296.90 268.40 298.40C269.20 299.90 269.82 300.70 270.50 302.00C271.18 303.30 271.73 303.70 272.50 306.20C273.27 308.70 274.32 313.42 275.10 317.00C275.88 320.58 276.55 323.70 277.20 327.70C277.85 331.70 278.43 336.62 279.00 341.00C279.57 345.38 280.10 349.50 280.60 354.00C281.10 358.50 281.52 363.50 282.00 368.00C282.48 372.50 283.07 376.83 283.50 381.00C283.93 385.17 284.27 388.67 284.60 393.00C284.93 397.33 285.13 402.50 285.50 407.00C285.87 411.50 286.38 415.83 286.80 420.00C287.22 424.17 287.63 428.50 288.00 432.00C288.37 435.50 288.63 437.97 289.00 441.00C289.37 444.03 289.77 447.32 290.20 450.20C290.63 453.08 291.15 455.83 291.60 458.30C292.05 460.77 292.45 463.70 292.90 465.00C293.35 466.30 293.73 466.32 294.30 466.10C294.87 465.88 295.63 464.78 296.30 463.70C296.97 462.62 297.52 460.72 298.30 459.60C299.08 458.48 300.33 458.57 301.00 457.00C301.67 455.43 301.97 452.90 302.30 450.20C302.63 447.50 302.77 444.17 303.00 440.80C303.23 437.43 303.40 433.47 303.70 430.00C304.00 426.53 304.47 423.33 304.80 420.00C305.13 416.67 305.32 414.35 305.70 410.00C306.08 405.65 306.65 399.95 307.10 393.90C307.55 387.85 307.95 380.43 308.40 373.70C308.85 366.97 309.40 359.12 309.80 353.50C310.20 347.88 310.38 344.90 310.80 340.00C311.22 335.10 311.60 330.12 312.30 324.10C313.00 318.08 314.10 310.63 315.00 303.90C315.90 297.17 316.93 290.18 317.70 283.70C318.47 277.22 319.13 269.75 319.60 265.00C320.07 260.25 320.03 258.23 320.50 255.20C320.97 252.17 321.62 250.07 322.40 246.80C323.18 243.53 324.38 239.33 325.20 235.60C326.02 231.87 326.72 228.13 327.30 224.40C327.88 220.67 328.30 216.93 328.70 213.20C329.10 209.47 329.35 205.27 329.70 202.00C330.05 198.73 330.38 196.40 330.80 193.60C331.22 190.80 331.62 187.77 332.20 185.20C332.78 182.63 333.60 180.07 334.30 178.20C335.00 176.33 335.78 175.28 336.40 174.00C337.02 172.72 337.40 171.50 338.00 170.50C338.60 169.50 339.25 168.83 340.00 168.00C340.75 167.17 341.83 166.50 342.50 165.50C343.17 164.50 343.58 163.42 344.00 162.00C344.42 160.58 344.67 158.50 345.00 157.00C345.33 155.50 345.58 154.17 346.00 153.00C346.42 151.83 347.00 150.83 347.50 150.00C348.00 149.17 348.42 148.63 349.00 148.00C349.58 147.37 350.43 147.19 351.00 146.20C351.57 145.21 351.93 143.41 352.40 142.05C352.87 140.69 353.33 139.39 353.80 138.05C354.27 136.72 354.73 135.61 355.20 134.04C355.67 132.47 356.13 130.20 356.60 128.63C357.07 127.06 357.42 126.18 358.00 124.62C358.58 123.06 359.40 120.99 360.10 119.30C360.80 117.61 361.50 116.00 362.20 114.50C362.90 113.00 363.62 111.65 364.30 110.30C364.98 108.95 365.63 107.58 366.30 106.40C366.97 105.22 367.60 104.13 368.30 103.20C369.00 102.27 369.55 101.93 370.50 100.80C371.45 99.67 372.83 97.80 374.00 96.40C375.17 95.00 376.22 93.83 377.50 92.40C378.78 90.97 380.30 89.23 381.70 87.80C383.10 86.37 384.62 84.95 385.90 83.80C387.18 82.65 388.22 81.67 389.40 80.90C390.58 80.14 391.82 79.78 393.00 79.21C394.18 78.64 395.35 78.20 396.50 77.50C397.65 76.80 398.87 75.78 399.90 75.00C400.93 74.22 401.77 73.50 402.70 72.80C403.63 72.10 404.57 71.33 405.50 70.80C406.43 70.27 407.37 69.92 408.30 69.60C409.23 69.28 410.18 68.88 411.10 68.90C412.02 68.92 412.93 69.15 413.80 69.70C414.67 70.25 415.43 71.07 416.30 72.20C417.17 73.33 418.05 74.95 419.00 76.50C419.95 78.05 421.00 79.92 422.00 81.50C423.00 83.08 423.85 84.50 425.00 86.00C426.15 87.50 427.70 88.72 428.90 90.50C430.10 92.28 430.97 94.53 432.20 96.70C433.43 98.87 435.07 101.25 436.30 103.50C437.53 105.75 438.48 107.95 439.60 110.20C440.72 112.45 441.98 114.75 443.00 117.00C444.02 119.25 444.68 121.23 445.70 123.70C446.72 126.17 448.08 129.33 449.10 131.80C450.12 134.27 450.90 136.03 451.80 138.50C452.70 140.97 453.57 143.90 454.50 146.60C455.43 149.30 456.92 153.35 457.40 154.70" fill="none" stroke="#00ffff" stroke-width="2.6" stroke-linejoin="round" stroke-linecap="round"/>
<path d="M119.90 89.00C120.02 88.00 120.30 85.10 120.60 83.00C120.90 80.90 121.35 78.38 121.70 76.41C122.05 74.44 122.42 72.17 122.70 71.15C122.98 70.13 123.17 70.28 123.40 70.30C123.63 70.32 123.80 70.20 124.10 71.30C124.40 72.40 124.85 74.95 125.20 76.90C125.55 78.85 125.88 80.82 126.20 83.00C126.52 85.18 126.85 88.00 127.10 90.00C127.35 92.00 127.50 93.33 127.70 95.00C127.90 96.67 128.03 97.50 128.30 100.00C128.57 102.50 128.95 106.33 129.30 110.00C129.65 113.67 130.00 117.83 130.40 122.00C130.80 126.17 131.33 131.17 131.70 135.00C132.07 138.83 132.33 140.83 132.60 145.00C132.87 149.17 133.07 155.00 133.30 160.00C133.53 165.00 133.77 170.00 134.00 175.00C134.23 180.00 134.48 186.15 134.70 190.00C134.92 193.85 135.12 195.40 135.30 198.10C135.48 200.80 135.63 203.50 135.80 206.20C135.97 208.90 135.95 212.68 136.30 214.30C136.65 215.92 137.35 216.05 137.90 215.90C138.45 215.75 139.12 213.27 139.60 213.40C140.08 213.53 140.40 215.22 140.80 216.70C141.20 218.18 141.60 220.42 142.00 222.30C142.40 224.18 142.80 226.10 143.20 228.00C143.60 229.90 144.00 231.68 144.40 233.70C144.80 235.72 145.27 237.95 145.60 240.10C145.93 242.25 146.13 244.62 146.40 246.60C146.67 248.58 146.85 249.43 147.20 252.00C147.55 254.57 148.12 259.00 148.50 262.00C148.88 265.00 149.08 266.33 149.50 270.00C149.92 273.67 150.42 279.33 151.00 284.00C151.58 288.67 152.33 293.00 153.00 298.00C153.67 303.00 154.33 308.00 155.00 314.00C155.67 320.00 156.33 328.00 157.00 334.00C157.67 340.00 158.33 344.67 159.00 350.00C159.67 355.33 160.33 361.00 161.00 366.00C161.67 371.00 162.43 375.17 163.00 380.00C163.57 384.83 163.98 391.03 164.40 395.00C164.82 398.97 165.13 400.87 165.50 403.80C165.87 406.73 166.23 409.67 166.60 412.60C166.97 415.53 167.23 418.65 167.70 421.40C168.17 424.15 168.93 427.35 169.40 429.10C169.87 430.85 169.95 431.98 170.50 431.90C171.05 431.82 171.88 429.62 172.70 428.60C173.52 427.58 174.58 425.80 175.40 425.80C176.22 425.80 176.87 427.90 177.60 428.60C178.33 429.30 179.07 430.28 179.80 430.00C180.53 429.72 181.27 427.82 182.00 426.90C182.73 425.98 183.47 424.58 184.20 424.50C184.93 424.42 185.75 425.45 186.40 426.40C187.05 427.35 187.55 428.73 188.10 430.20C188.65 431.67 189.15 433.63 189.70 435.20C190.25 436.77 190.85 438.68 191.40 439.60C191.95 440.52 192.37 440.70 193.00 440.70C193.63 440.70 194.47 439.88 195.20 439.60C195.93 439.32 196.75 439.65 197.40 439.00C198.05 438.35 198.63 437.17 199.10 435.70C199.57 434.23 199.83 432.22 200.20 430.20C200.57 428.18 200.85 425.62 201.30 423.60C201.75 421.58 202.37 419.53 202.90 418.10C203.43 416.67 203.90 415.87 204.50 415.00C205.10 414.13 205.98 414.02 206.50 412.90C207.02 411.78 207.23 410.22 207.60 408.30C207.97 406.38 208.22 403.88 208.70 401.40C209.18 398.92 209.92 395.68 210.50 393.40C211.08 391.12 211.63 389.42 212.20 387.70C212.77 385.98 213.33 384.53 213.90 383.10C214.47 381.67 214.93 380.05 215.60 379.10C216.27 378.15 217.23 378.27 217.90 377.40C218.57 376.53 219.12 375.23 219.60 373.90C220.08 372.57 220.42 371.12 220.80 369.40C221.18 367.68 221.43 365.23 221.90 363.60C222.37 361.97 222.93 360.55 223.60 359.60C224.27 358.65 225.23 358.57 225.90 357.90C226.57 357.23 227.12 356.93 227.60 355.60C228.08 354.27 228.32 351.62 228.80 349.90C229.28 348.18 229.83 346.35 230.50 345.30C231.17 344.25 231.93 343.98 232.80 343.60C233.67 343.22 234.83 343.25 235.70 343.00C236.57 342.75 237.25 342.25 238.00 342.10C238.75 341.95 239.45 341.75 240.20 342.10C240.95 342.45 241.72 343.47 242.50 344.20C243.28 344.93 244.15 345.90 244.90 346.50C245.65 347.10 246.12 347.52 247.00 347.80C247.88 348.08 249.10 347.73 250.20 348.20C251.30 348.67 252.47 349.30 253.60 350.60C254.73 351.90 255.97 354.27 257.00 356.00C258.03 357.73 258.83 359.17 259.80 361.00C260.77 362.83 261.80 365.00 262.80 367.00C263.80 369.00 264.90 370.80 265.80 373.00C266.70 375.20 267.50 377.80 268.20 380.20C268.90 382.60 269.40 385.00 270.00 387.40C270.60 389.80 271.30 392.20 271.80 394.60C272.30 397.00 272.60 399.60 273.00 401.80C273.40 404.00 273.80 405.60 274.20 407.80C274.60 410.00 275.02 412.80 275.40 415.00C275.78 417.20 276.15 418.67 276.50 421.00C276.85 423.33 277.12 425.83 277.50 429.00C277.88 432.17 278.42 436.17 278.80 440.00C279.18 443.83 279.47 448.05 279.80 452.00C280.13 455.95 280.47 460.03 280.80 463.70C281.13 467.37 281.47 470.63 281.80 474.00C282.13 477.37 282.52 480.57 282.80 483.90C283.08 487.23 283.27 490.63 283.50 494.00C283.73 497.37 283.95 500.77 284.20 504.10C284.45 507.43 284.73 510.68 285.00 514.00C285.27 517.32 285.52 520.50 285.80 524.00C286.08 527.50 286.33 530.50 286.70 535.00C287.07 539.50 287.53 545.17 288.00 551.00C288.47 556.83 289.03 564.33 289.50 570.00C289.97 575.67 290.38 580.00 290.80 585.00C291.22 590.00 291.63 596.50 292.00 600.00C292.37 603.50 292.62 604.28 293.00 606.00C293.38 607.72 293.80 610.30 294.30 610.30C294.80 610.30 295.45 607.55 296.00 606.00C296.55 604.45 296.98 602.67 297.60 601.00C298.22 599.33 299.02 597.83 299.70 596.00C300.38 594.17 301.18 592.67 301.70 590.00C302.22 587.33 302.47 583.33 302.80 580.00C303.13 576.67 303.42 573.67 303.70 570.00C303.98 566.33 304.23 561.83 304.50 558.00C304.77 554.17 305.05 550.83 305.30 547.00C305.55 543.17 305.77 539.50 306.00 535.00C306.23 530.50 306.42 525.15 306.70 520.00C306.98 514.85 307.42 508.43 307.70 504.10C307.98 499.77 308.17 497.37 308.40 494.00C308.63 490.63 308.77 488.95 309.10 483.90C309.43 478.85 309.95 470.43 310.40 463.70C310.85 456.97 311.45 448.78 311.80 443.50C312.15 438.22 312.17 436.90 312.50 432.00C312.83 427.10 313.25 420.45 313.80 414.10C314.35 407.75 315.13 400.63 315.80 393.90C316.47 387.17 317.12 380.43 317.80 373.70C318.48 366.97 319.33 359.12 319.90 353.50C320.47 347.88 320.88 343.32 321.20 340.00C321.52 336.68 321.25 337.37 321.80 333.60C322.35 329.83 323.60 323.47 324.50 317.40C325.40 311.33 326.42 303.93 327.20 297.20C327.98 290.47 328.53 282.62 329.20 277.00C329.87 271.38 330.58 268.00 331.20 263.50C331.82 259.00 332.38 253.95 332.90 250.00C333.42 246.05 333.72 242.90 334.30 239.80C334.88 236.70 335.58 233.97 336.40 231.40C337.22 228.83 338.27 226.73 339.20 224.40C340.13 222.07 341.18 219.50 342.00 217.40C342.82 215.30 343.52 213.90 344.10 211.80C344.68 209.70 345.15 207.37 345.50 204.80C345.85 202.23 345.85 198.97 346.20 196.40C346.55 193.83 346.90 191.50 347.60 189.40C348.30 187.30 349.58 186.37 350.40 183.80C351.22 181.23 351.97 176.63 352.50 174.00C353.03 171.37 353.15 170.30 353.60 168.00C354.05 165.70 354.58 162.90 355.20 160.20C355.82 157.50 356.60 154.60 357.30 151.80C358.00 149.00 358.70 146.20 359.40 143.40C360.10 140.60 360.80 137.80 361.50 135.00C362.20 132.20 362.90 129.40 363.60 126.60C364.30 123.80 365.00 120.77 365.70 118.20C366.40 115.63 367.12 113.20 367.80 111.20C368.48 109.20 369.00 107.97 369.80 106.20C370.60 104.43 371.67 102.35 372.60 100.60C373.53 98.85 374.47 97.22 375.40 95.70C376.33 94.18 377.27 92.78 378.20 91.50C379.13 90.22 380.07 89.05 381.00 88.00C381.93 86.95 382.75 86.13 383.80 85.20C384.85 84.27 386.13 83.22 387.30 82.40C388.47 81.58 389.63 80.88 390.80 80.30C391.97 79.72 393.25 79.37 394.30 78.90C395.35 78.43 396.17 78.20 397.10 77.50C398.03 76.80 398.97 75.52 399.90 74.70C400.83 73.88 401.77 73.30 402.70 72.60C403.63 71.90 404.57 71.02 405.50 70.50C406.43 69.98 407.37 69.80 408.30 69.50C409.23 69.20 410.28 68.77 411.10 68.70C411.92 68.63 412.50 68.68 413.20 69.10C413.90 69.52 414.60 70.15 415.30 71.20C416.00 72.25 416.70 74.00 417.40 75.40C418.10 76.80 418.80 78.20 419.50 79.60C420.20 81.00 420.78 82.17 421.60 83.80C422.42 85.43 423.58 87.83 424.40 89.40C425.22 90.97 425.75 91.95 426.50 93.20C427.25 94.45 427.95 95.18 428.90 96.90C429.85 98.62 431.08 101.05 432.20 103.50C433.32 105.95 434.58 109.13 435.60 111.60C436.62 114.07 437.52 116.07 438.30 118.30C439.08 120.53 439.52 122.53 440.30 125.00C441.08 127.47 442.10 130.40 443.00 133.10C443.90 135.80 444.80 138.50 445.70 141.20C446.60 143.90 447.50 146.60 448.40 149.30C449.30 152.00 450.20 154.70 451.10 157.40C452.00 160.10 452.78 162.58 453.80 165.50C454.82 168.42 456.63 173.33 457.20 174.90" fill="none" stroke="#ff00ff" stroke-width="2.6" stroke-linejoin="round" stroke-linecap="round"/>
<path d="M306 5V606" stroke="#000" stroke-width="2.2" stroke-dasharray="8 7.6" fill="none"/>
<path d="M79 1H499V672H79Z" stroke="#000" stroke-width="2.2" fill="none"/>
<text class="tl" x="69.8" y="681" text-anchor="end">65</text>
<text class="tl" x="69.8" y="595" text-anchor="end">70</text>
<text class="tl" x="69.8" y="509" text-anchor="end">75</text>
<text class="tl" x="69.8" y="423" text-anchor="end">80</text>
<text class="tl" x="69.8" y="337" text-anchor="end">85</text>
<text class="tl" x="69.8" y="251" text-anchor="end">90</text>
<text class="tl" x="69.8" y="165" text-anchor="end">95</text>
<text class="tl" x="69.8" y="79" text-anchor="end">100</text>
<text class="tl" x="120.7" y="701.5" text-anchor="middle">400</text>
<text class="tl" x="204.7" y="701.5" text-anchor="middle">500</text>
<text class="tl" x="288.7" y="701.5" text-anchor="middle">600</text>
<text class="tl" x="372.7" y="701.5" text-anchor="middle">700</text>
<text class="tl" x="456.7" y="701.5" text-anchor="middle">800</text>
<text x="139.9" y="734" font-size="34">Wavenumber (cm</text>
<text x="408" y="716" font-size="18">-</text><text x="414.3" y="716" font-size="19.5">1</text>
<text x="428" y="734" font-size="34">)</text>
<text transform="translate(24.8,483.3) rotate(-90)" x="0" y="0" font-size="34">Transmittance (%)</text>
<text x="234.7" y="80.1" font-size="32" fill="#000">(a)</text>
<text x="235" y="135" font-size="32" fill="#ff0000">(b)</text>
<text x="233.3" y="190.4" font-size="32" fill="#800000">(c)</text>
<text x="233.4" y="245.3" font-size="32" fill="#0000ff">(d)</text>
<text x="233.4" y="317.8" font-size="32" fill="#008080">(e)</text>
<text x="233.2" y="388.6" font-size="32" fill="#ff00ff">(f)</text>
<text x="170.5" y="495.5" font-size="31.4">F-Sn-F</text>
<text x="135.5" y="531" font-size="31.2">O-Sn-O</text>
<text x="261.4" y="642.8" font-size="31.3">Sn-O</text>
<path d="M211 464.8L204.6 453" stroke="#000" stroke-width="1.8" fill="none"/>
<path d="M197.4 439.2L209 451.6L204.6 453.2L201.4 455.6Z" fill="#000"/>
<rect x="335.2" y="368" width="145.4" height="250.8" fill="#000"/>
<rect x="325.5" y="358.5" width="145.5" height="250.8" fill="#fff" stroke="#222" stroke-width="1.1"/>
<text class="lg" x="328.4" y="385.2" font-size="27.5" stroke="#000">NH<tspan font-size="14" dx="0.5" dy="11.5">4</tspan><tspan dx="1.3" dy="-11.5">F/SnCl</tspan><tspan font-size="14" dy="11">2</tspan></text>
<text class="lg" x="328.4" y="429.5"><tspan fill="#000" stroke="#000">(a)</tspan><tspan fill="#000" stroke="#000">0wt.%</tspan></text>
<text class="lg" x="328.4" y="464.1"><tspan fill="#ff0000" stroke="#ff0000">(b)</tspan><tspan fill="#000" stroke="#000">5wt.%</tspan></text>
<text class="lg" x="328.4" y="498.7"><tspan fill="#800000" stroke="#800000">(c)</tspan><tspan fill="#000" stroke="#000">10wt.%</tspan></text>
<text class="lg" x="328.4" y="533.3"><tspan fill="#0000ff" stroke="#0000ff">(d)</tspan><tspan fill="#000" stroke="#000">15wt.%</tspan></text>
<text class="lg" x="328.4" y="567.9"><tspan fill="#008080" stroke="#008080">(e)</tspan><tspan fill="#000" stroke="#000">20wt.%</tspan></text>
<text class="lg" x="328.4" y="602.5"><tspan fill="#ff00ff" stroke="#ff00ff">(f )</tspan><tspan fill="#000" stroke="#000">25wt.%</tspan></text>
</svg>
</body></html>
